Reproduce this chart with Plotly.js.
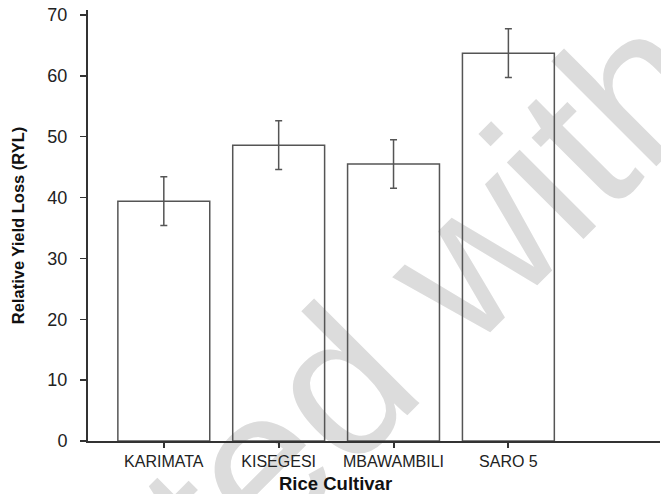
<!DOCTYPE html>
<html>
<head>
<meta charset="utf-8">
<script src="https://cdn.plot.ly/plotly-3.0.1.min.js"></script>
<style>html,body{margin:0;padding:0;background:#fff;}#chart{width:661px;height:494px;}</style>
</head>
<body>
<div id="chart"></div>
<script>
const cultivars = ["KARIMATA", "KISEGESI", "MBAWAMBILI", "SARO 5"];
const rylMean = [39.4, 48.6, 45.5, 63.7];
const rylError = [4.0, 4.0, 4.0, 4.0];
const yTicks = [0, 10, 20, 30, 40, 50, 60, 70];

const FONT = '"Liberation Sans", Arial, Helvetica, sans-serif';

const trace = {
  type: 'bar',
  x: cultivars,
  y: rylMean,
  width: 0.8,
  marker: {color: 'rgba(255,255,255,0)', line: {color: '#555', width: 1.5}},
  error_y: {type: 'data', array: rylError, visible: true, color: '#555', thickness: 1.5, width: 3.5},
  hoverinfo: 'skip'
};

const wmX = (256 - 88) / 572, wmY = (441.5 - 439) / 431.5;

const layout = {
  width: 661, height: 494,
  margin: {l: 88, r: 1, t: 10, b: 52.5, pad: 0},
  paper_bgcolor: '#fff', plot_bgcolor: 'rgba(0,0,0,0)',
  font: {family: FONT, color: '#222'},
  showlegend: false,
  xaxis: {
    type: 'category',
    range: [-0.66, 4.32],
    showline: true, linecolor: '#333', linewidth: 2,
    ticks: 'outside', ticklen: 5, tickwidth: 2, tickcolor: '#333',
    tickfont: {size: 16, family: FONT, color: '#222'},
    showgrid: false, zeroline: false
  },
  yaxis: {
    range: [0, 70.8],
    tickvals: yTicks,
    ticktext: yTicks.map(String),
    showline: true, linecolor: '#333', linewidth: 2,
    ticks: 'outside', ticklen: 6, tickwidth: 1.5, tickcolor: '#333',
    ticklabelstandoff: 9,
    tickfont: {size: 18, family: FONT, color: '#222'},
    showgrid: false, zeroline: false,
    title: {text: '<b>Relative Yield Loss (RYL)</b>', font: {size: 16.5, family: FONT, color: '#111'}, standoff: 19}
  },
  shapes: [{
    type: 'rect', layer: 'below',
    xref: 'paper', yref: 'paper',
    x0: wmX - 0.05, x1: wmX + 0.05,
    y0: wmY - 0.05, y1: wmY + 0.05,
    line: {width: 0, color: 'rgba(0,0,0,0)'}, fillcolor: 'rgba(0,0,0,0)',
    label: {
      text: 'Created with', textangle: -45, textposition: 'middle center',
      xanchor: 'center', yanchor: 'middle',
      font: {family: FONT, size: 205, color: '#dcdcdc'}
    }
  }],
  annotations: [{
    text: '<b>Rice Cultivar</b>',
    xref: 'paper', yref: 'paper',
    x: (335 - 88) / 572, y: (441.5 - 484.5) / 431.5,
    xanchor: 'center', yanchor: 'middle',
    showarrow: false,
    font: {family: FONT, size: 18.5, color: '#111'}
  }]
};

Plotly.newPlot('chart', [trace], layout, {displayModeBar: false, staticPlot: true});
</script>
</body>
</html>
